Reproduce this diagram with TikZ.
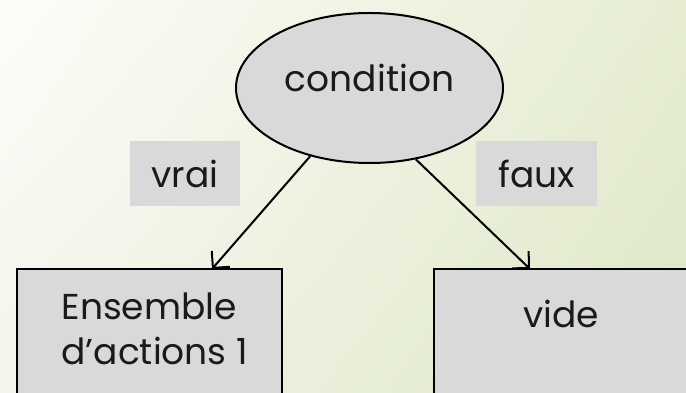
\documentclass[tikz,border=0pt]{standalone}
\usepackage{fontspec}
\setmainfont{Poppins}
\usetikzlibrary{shapes.geometric,arrows.meta,shadings}
\definecolor{boxgray}{HTML}{D9D9D9}
\definecolor{ink}{HTML}{1A1A1A}
\definecolor{bgUL}{HTML}{FCFDF9}
\definecolor{bgUR}{HTML}{E6EDD3}
\definecolor{bgLL}{HTML}{F2F5EA}
\definecolor{bgLR}{HTML}{DEE7C6}
\tikzset{
  txt/.style={font=\fontsize{36}{45}\selectfont, text=ink},
  decision/.style={ellipse, draw=black, line width=2pt, fill=boxgray,
    minimum width=267pt, minimum height=150pt, inner sep=0pt, txt,
    text height=27pt, text depth=19pt},
  tag/.style={rectangle, fill=boxgray, inner sep=0pt, txt},
  block/.style={draw=black, line width=2pt, fill=boxgray},
  flow/.style={line width=2pt, -{Straight Barb[length=12pt,width=24pt,line width=2pt]}},
}
\begin{document}
\begin{tikzpicture}[x=1pt,y=1pt]
  \useasboundingbox (0,0) rectangle (686,393);
  \clip (0,0) rectangle (686,393);
  % soft green background
  \shade[upper left=bgUL, upper right=bgUR, lower left=bgLL, lower right=bgLR]
    (0,0) rectangle (686,393);

  % the two branch blocks, running off the lower edge
  \draw[block] (17,-20) rectangle (282,124);
  \draw[block] (434,-20) rectangle (710,124);
  \node[txt, anchor=base west, align=left] (ens) at (58,73) {Ensemble};
  \node[txt, anchor=base west] (act) at (58,28) {d’actions 1};
  \node[txt, anchor=base] (vide) at (561,65) {vide};

  % decision
  \node[decision] (cond) at (369.5,305) {condition};

  % branch labels
  \node[tag, minimum width=110pt, minimum height=65pt] (vrai) at (185,219.5) {vrai};
  \node[tag, minimum width=121pt, minimum height=65pt] (faux) at (536.5,219.5) {faux};

  % arrows into the blocks
  \coordinate (tipL) at (212,124);
  \coordinate (tipR) at (530,124);
  \draw[flow] (cond.229) -- (tipL);
  \draw[flow] (cond.303) -- (tipR);
\end{tikzpicture}
\end{document}
